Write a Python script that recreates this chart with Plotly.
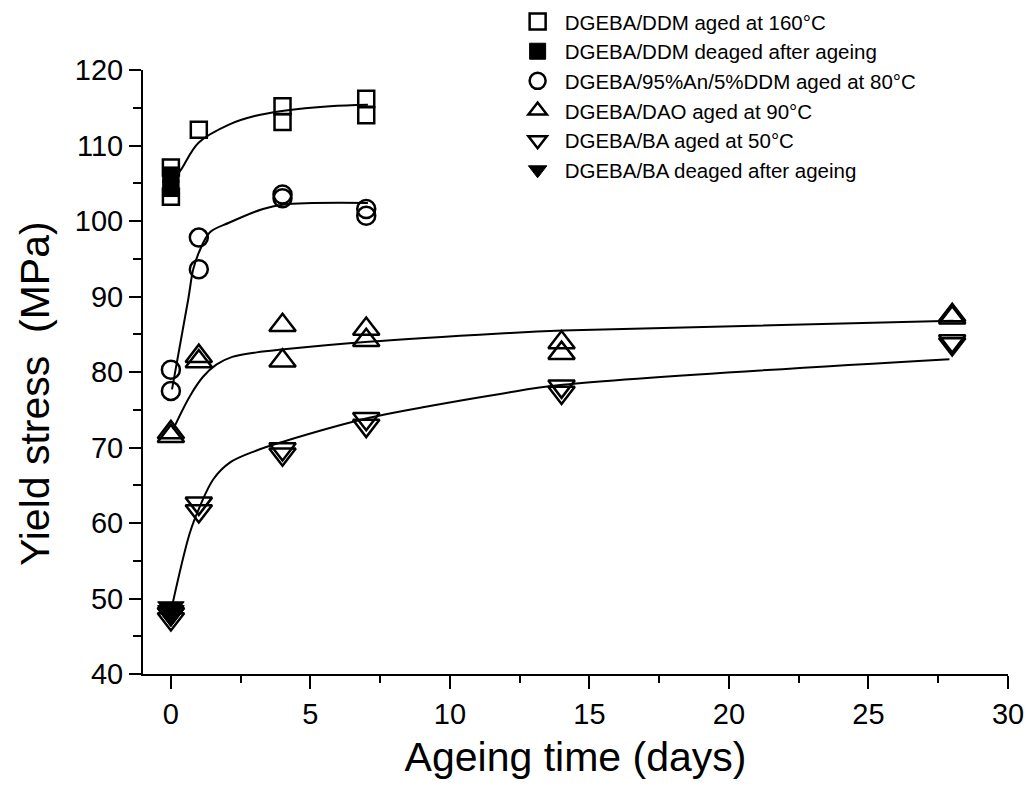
import plotly.graph_objects as go

# ---- data ----
ddm_aged_x = [0, 0, 1, 4, 4, 7, 7]
ddm_aged_y = [107.1, 103.2, 112.1, 115.2, 113.1, 116.2, 114.0]
ddm_deaged_x = [0, 0, 0]
ddm_deaged_y = [106.1, 105.2, 104.3]
an_x = [0, 0, 1, 1, 4, 4, 7, 7]
an_y = [80.3, 77.5, 97.8, 93.6, 103.5, 103.0, 101.6, 100.7]
dao_x = [0, 0, 1, 1, 4, 4, 7, 7, 14, 14, 28, 28]
dao_y = [72.0, 71.5, 82.1, 81.4, 86.2, 81.5, 85.7, 84.2, 83.9, 82.5, 87.5, 87.2]
ba_aged_x = [0, 0, 1, 1, 4, 4, 7, 7, 14, 14, 28, 28]
ba_aged_y = [48.0, 47.3, 62.6, 61.6, 69.8, 69.1, 73.8, 72.9, 78.1, 77.3, 84.1, 83.7]
ba_deaged_x = [0, 0, 0]
ba_deaged_y = [48.8, 48.3, 47.8]

# fitted curves
ddm_fit_x = [0, 0.38, 1.0, 2.1, 3.0, 4.05, 5.7, 7.06]
ddm_fit_y = [104.8, 106.9, 110.4, 112.8, 113.9, 114.6, 115.2, 115.4]
an_fit_x = [0.04, 0.62, 0.8, 1.0, 1.4, 2.1, 3.3, 4.05, 7.06]
an_fit_y = [77.7, 89.6, 93.6, 95.8, 98.5, 99.8, 101.6, 102.2, 102.4]
dao_fit_x = [0.08, 0.68, 1.16, 1.64, 2.2, 3.07, 4.05, 7.07, 11.8, 14.04, 28.04]
dao_fit_y = [72.4, 76.8, 79.4, 81.0, 82.0, 82.6, 83.0, 84.0, 85.1, 85.5, 86.8]
ba_fit_x = [0.0, 0.68, 1.04, 1.52, 2.11, 3.07, 4.05, 7.07, 9.28, 11.8, 14.04, 27.9]
ba_fit_y = [48.3, 58.7, 62.2, 65.8, 68.0, 69.6, 70.8, 73.9, 75.5, 77.1, 78.3, 81.7]

labels = [
    "DGEBA/DDM aged at 160°C",
    "DGEBA/DDM deaged after ageing",
    "DGEBA/95%An/5%DDM aged at 80°C",
    "DGEBA/DAO aged at 90°C",
    "DGEBA/BA aged at 50°C",
    "DGEBA/BA deaged after ageing",
]
x_title = "Ageing time (days)"
y_title = "Yield stress\u00a0\u00a0(MPa)"

FONT = "Liberation Sans, Arial, sans-serif"
fig = go.Figure()

for fx, fy in [(ddm_fit_x, ddm_fit_y), (an_fit_x, an_fit_y),
               (dao_fit_x, dao_fit_y), (ba_fit_x, ba_fit_y)]:
    fig.add_trace(go.Scatter(x=fx, y=fy, mode="lines", showlegend=False,
                             line=dict(color="black", width=2, shape="spline", smoothing=1.0),
                             hoverinfo="skip"))

series = [
    (ddm_aged_x, ddm_aged_y, "square-open", 16, labels[0], 1),
    (an_x, an_y, "circle-open", 18, labels[2], 3),
    (dao_x, dao_y, "triangle-up-open", 23, labels[3], 4),
    (ba_aged_x, ba_aged_y, "triangle-down-open", 23, labels[4], 5),
    (ddm_deaged_x, ddm_deaged_y, "square", 16, labels[1], 2),
    (ba_deaged_x, ba_deaged_y, "triangle-down", 23, labels[5], 6),
]
for x, y, sym, size, name, rank in series:
    filled = not sym.endswith("open")
    fig.add_trace(go.Scatter(
        x=x, y=y, mode="markers", name=name, legendrank=rank, legendgroup=name,
        marker=dict(symbol=sym, size=size, color="black",
                    line=dict(color="black", width=2.5 if not filled else 1)),
    ))

fig.update_layout(
    width=1030, height=794,
    margin=dict(l=143, r=22, t=70, b=120, autoexpand=False),
    paper_bgcolor="white", plot_bgcolor="white",
    font=dict(family=FONT, color="black"),
    showlegend=True,
    legend=dict(x=0.425, y=1.113, xanchor="left", yanchor="top",
                font=dict(size=20.5, family=FONT), bgcolor="rgba(0,0,0,0)",
                tracegroupgap=0, itemsizing="trace", itemwidth=44),
    xaxis=dict(range=[-1, 30], tickmode="linear", tick0=0, dtick=5,
               ticks="outside", ticklen=13, tickwidth=2, tickcolor="black",
               showline=True, linecolor="black", linewidth=2, showgrid=False, zeroline=False,
               tickfont=dict(size=29, family=FONT),
               minor=dict(dtick=2.5, tick0=0, ticks="outside", ticklen=7, tickwidth=2,
                          tickcolor="black", showgrid=False),
               title=dict(text=x_title, font=dict(size=41, family=FONT), standoff=14)),
    yaxis=dict(range=[40, 120], tickmode="linear", tick0=40, dtick=10,
               ticks="outside", ticklen=12, tickwidth=2, tickcolor="black",
               showline=True, linecolor="black", linewidth=2, showgrid=False, zeroline=False,
               tickfont=dict(size=29, family=FONT),
               minor=dict(dtick=5, tick0=40, ticks="outside", ticklen=8, tickwidth=2,
                          tickcolor="black", showgrid=False)),
    annotations=[dict(text=y_title, textangle=-90, showarrow=False,
                      xref="paper", yref="paper", x=-0.1249, y=0.465,
                      xanchor="center", yanchor="middle",
                      font=dict(size=41, family=FONT, color="black"))],
)

fig.write_html("out.html")
